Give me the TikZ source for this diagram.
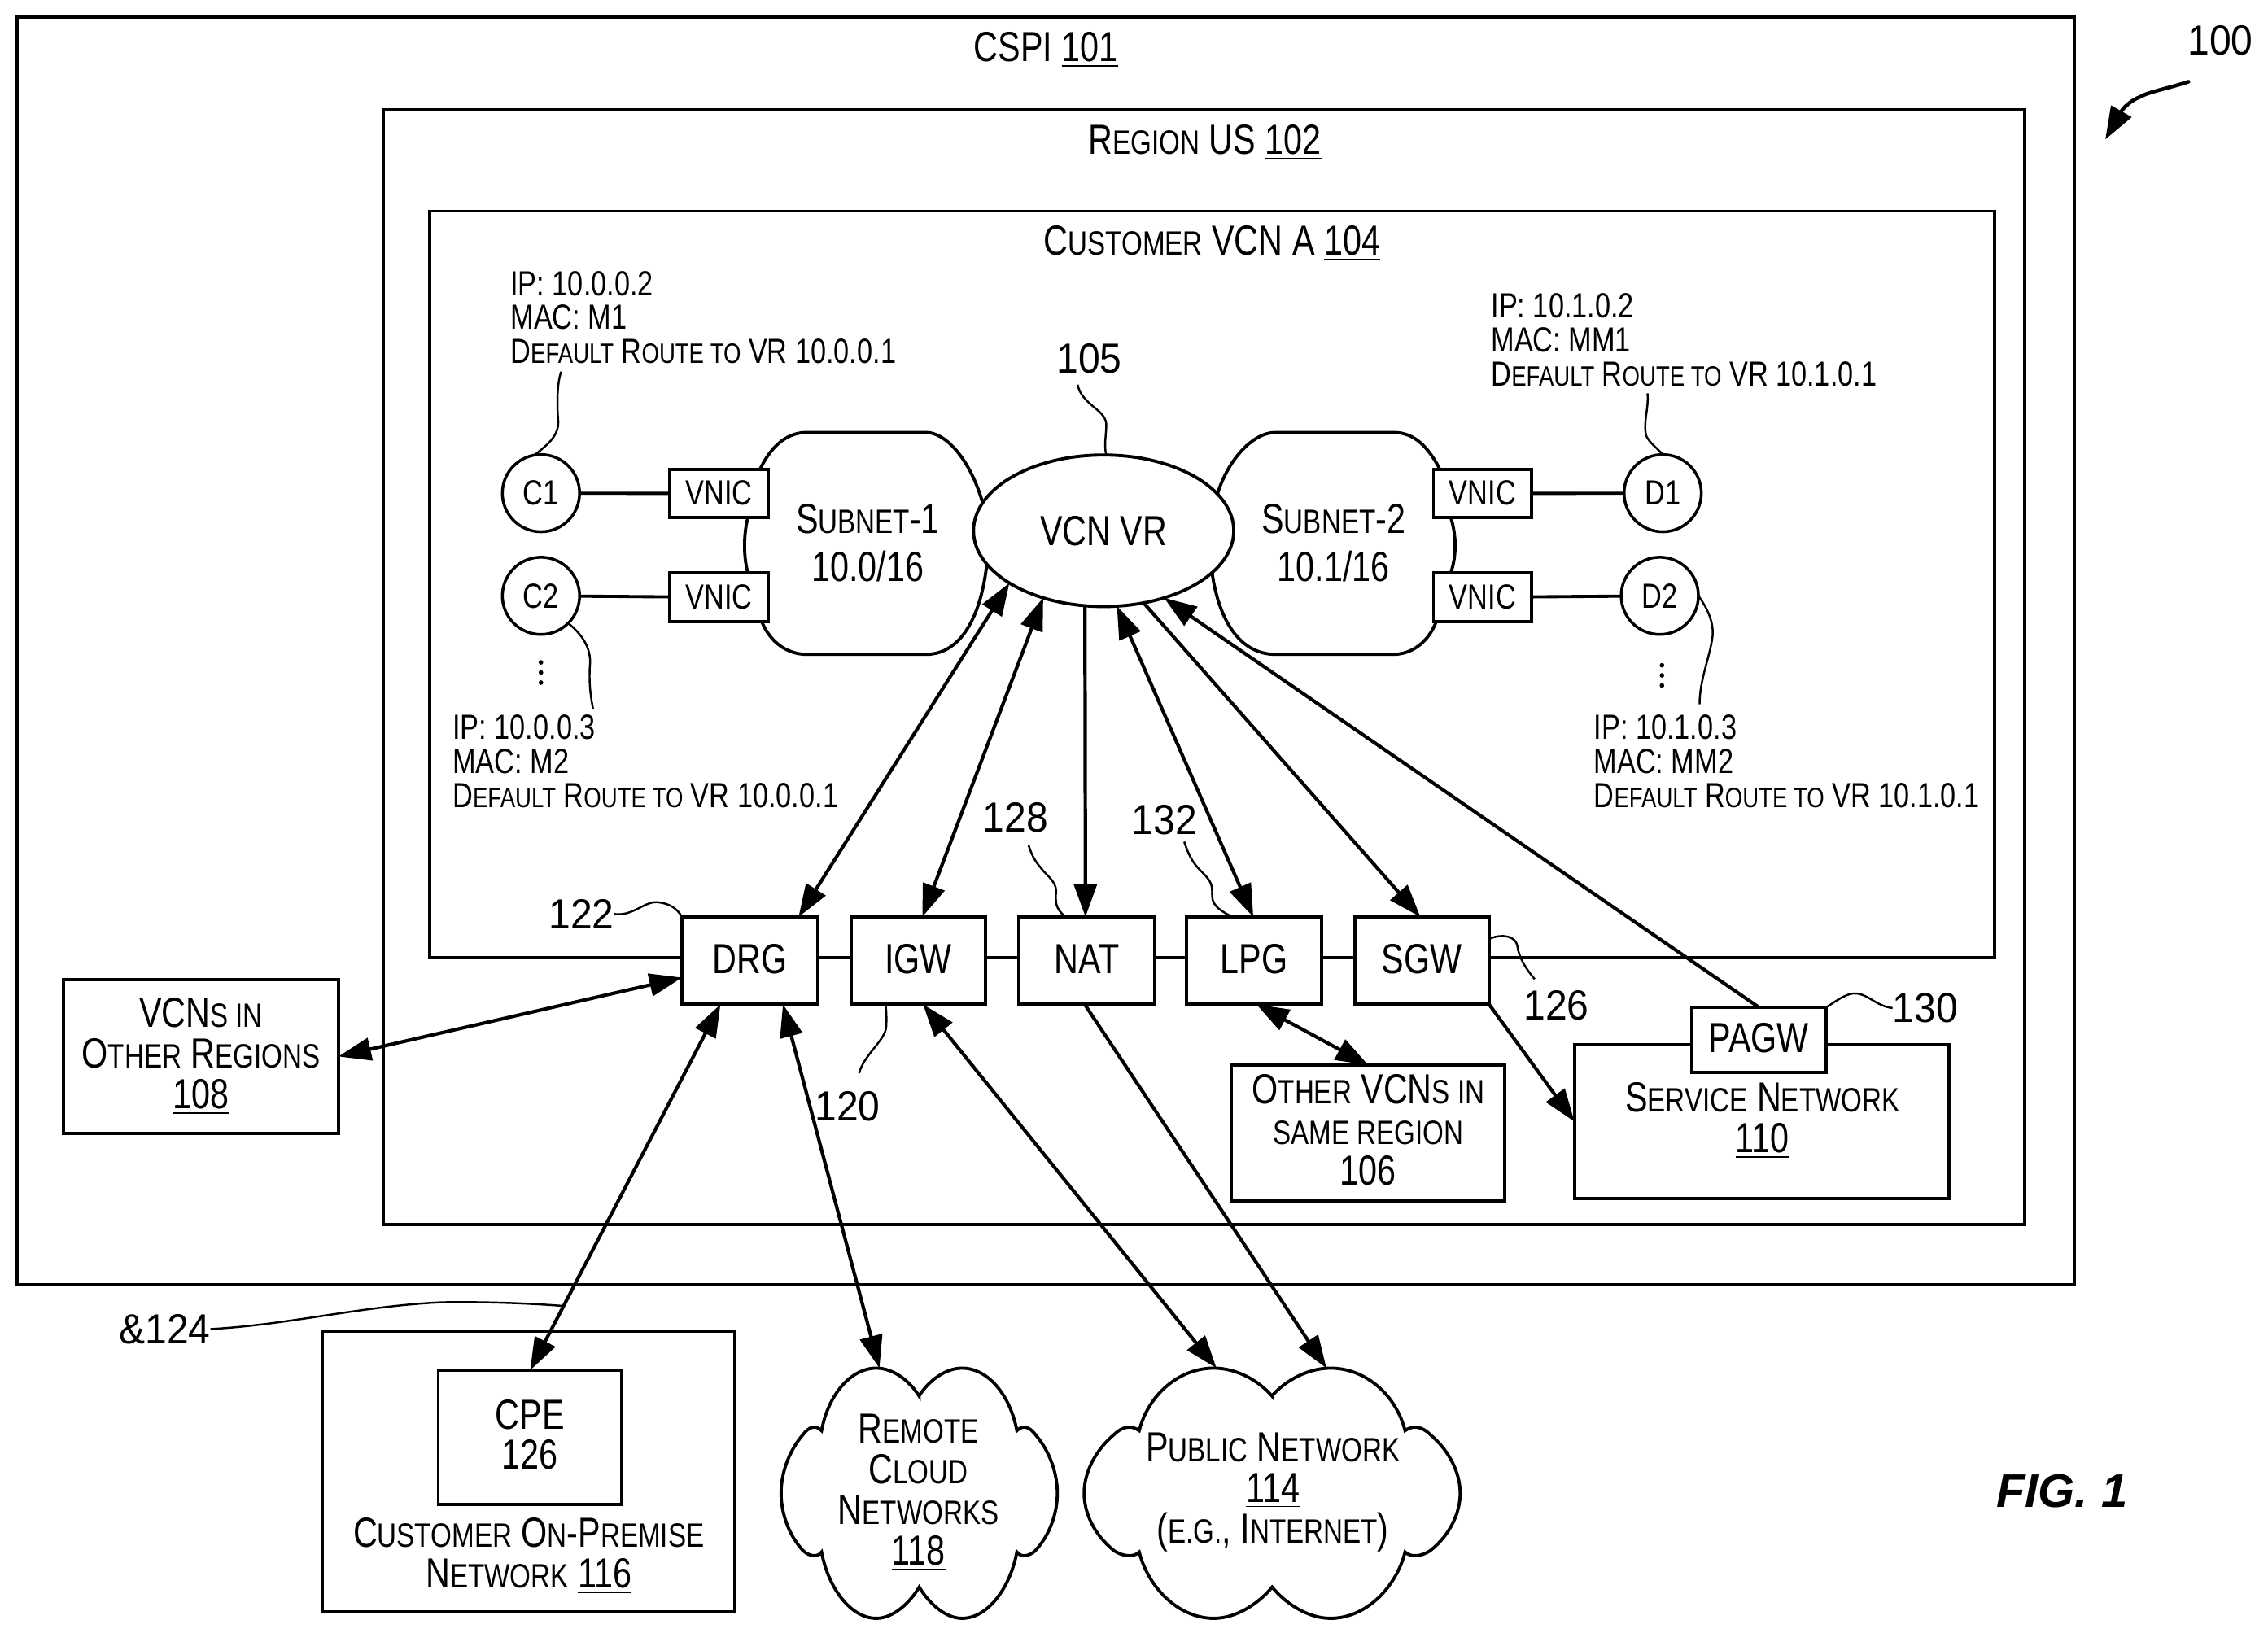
\documentclass[tikz,border=0pt]{standalone}
\usepackage{fontspec}
\setmainfont[FakeStretch=0.8]{Liberation Sans}
\newfontfamily\numfont[FakeStretch=0.93]{Liberation Sans}
\newfontfamily\figfont[BoldItalicFont={Liberation Sans Bold Italic}]{Liberation Sans}
\usetikzlibrary{arrows.meta,shapes.geometric}
\def\uu{0.50576pt}
\def\smsize{11.8pt}
\newcommand\sm[1]{{\fontsize{\smsize}{\smsize}\selectfont #1}}
\newcommand\unum[1]{\underline{#1}}
\newcommand\bigf{\def\smsize{11.8pt}\fontsize{14.7pt}{14.2pt}\selectfont}
\newcommand\midf{\def\smsize{9.8pt}\fontsize{12.2pt}{11.9pt}\selectfont}
\newcommand\bx[6]{\node[frame,minimum width={(#4-#2)*\uu},minimum height={(#5-#3)*\uu}] (#1) at ({(#2+#4)/2},{(#3+#5)/2}) {#6};}
\newcommand\cloudshape[4]{%
  \draw[shape line,fill=white,shift={(#1,#2)},xscale=#3,yscale=#4]
  (0,-.78) .. controls (.07,-.9) and (.19,-1) .. (.31,-1)
  .. controls (.5,-1) and (.66,-.78) .. (.707,-.5)
  .. controls (.75,-.55) and (.8,-.53) .. (.84,-.47)
  .. controls (.95,-.33) and (1,-.15) .. (1,0)
  .. controls (1,.15) and (.95,.33) .. (.84,.46)
  .. controls (.8,.5) and (.74,.52) .. (.707,.47)
  .. controls (.66,.75) and (.5,1) .. (.31,1)
  .. controls (.19,1) and (.07,.88) .. (0,.75)
  .. controls (-.07,.88) and (-.19,1) .. (-.31,1)
  .. controls (-.5,1) and (-.66,.75) .. (-.707,.47)
  .. controls (-.74,.52) and (-.8,.5) .. (-.84,.46)
  .. controls (-.95,.33) and (-1,.15) .. (-1,0)
  .. controls (-1,-.15) and (-.95,-.33) .. (-.84,-.47)
  .. controls (-.8,-.53) and (-.75,-.55) .. (-.707,-.5)
  .. controls (-.66,-.78) and (-.5,-1) .. (-.31,-1)
  .. controls (-.19,-1) and (-.07,-.9) .. cycle;}
\tikzset{
  frame/.style={draw,fill=white,line width=1.1pt,inner sep=0pt,outer sep=0pt,align=center,font=\bigf},
  shape line/.style={line width=1.1pt},
  txt/.style={inner sep=0pt,outer sep=0pt,align=center,font=\bigf},
  reflbl/.style={inner sep=0pt,outer sep=0pt,font=\numfont\bigf},
  info/.style={inner sep=0pt,outer sep=0pt,align=left,anchor=west,font=\midf},
  hostc/.style={draw,fill=white,circle,line width=1pt,minimum size=27pt,inner sep=0pt,outer sep=0pt,font=\midf},
  wire/.style={line width=1.1pt},
  conn/.style={line width=1.2pt,-{Triangle[length=11.4pt,width=7.9pt]}},
  both/.style={line width=1.2pt,{Triangle[length=11.4pt,width=7.9pt]}-{Triangle[length=11.4pt,width=7.9pt]}},
  leader/.style={line width=0.7pt},
  dotm/.style={circle,fill=black,inner sep=0pt,minimum size=1.6pt},
}
\begin{document}
\begin{tikzpicture}[x=\uu,y=-\uu]
\useasboundingbox (0,0) rectangle (1568,1129);
\fill[white] (0,0) rectangle (1568,1129);
% frames
\bx{cspi}{12}{12}{1434}{888.5}{}
\bx{region}{265}{76}{1400}{846.5}{}
\bx{vcn}{297}{146}{1379}{662}{}
\node[txt] (tcspi) at (723,34.5) {CSPI \unum{101}};
\node[txt] (tregion) at (833,98.5) {R\sm{EGION} US \unum{102}};
\node[txt] (tvcn) at (838,168.5) {C\sm{USTOMER} VCN A \unum{104}};
% subnets
\draw[shape line,fill=white] (525.7,324) .. controls (534,307) and (545,299) .. (558,299) -- (640,299)
  .. controls (655,299) and (672,320) .. (680,350) -- (682,392)
  .. controls (678,425) and (665,452.5) .. (640,452.5) -- (558,452.5)
  .. controls (545,452.5) and (533,445) .. (526.7,430) -- (517,396)
  .. controls (514,385) and (514,370) .. (517,358) -- cycle;
\draw[shape line,fill=white] (995,323.6) .. controls (985,305) and (975,299) .. (963,299) -- (882,299)
  .. controls (865,299) and (848,320) .. (841.6,342) -- (838,396)
  .. controls (842,425) and (855,452.5) .. (882,452.5) -- (963,452.5)
  .. controls (977,452.5) and (988,443) .. (993,429.6) -- (1003,396)
  .. controls (1007,385) and (1007,370) .. (1003,358) -- cycle;
\node[txt,font=\bigf] (tsub1) at (600,375.5) {S\sm{UBNET}-1\\[2.5pt]10.0/16};
\node[txt,font=\bigf] (tsub2) at (922,375.5) {S\sm{UBNET}-2\\[2.5pt]10.1/16};
% VR
\node[draw,fill=white,ellipse,line width=1.1pt,minimum width=91pt,minimum height=53pt,inner sep=0pt,outer sep=0pt,font=\bigf] (vr) at (763,367) {VCN VR};
% hosts and VNICs
\node[hostc] (c1) at (374,341) {C1};
\node[hostc] (c2) at (374,412) {C2};
\node[hostc] (d1) at (1149.5,341) {D1};
\node[hostc] (d2) at (1147.5,412) {D2};
\bx{v1}{463}{324.5}{531}{358}{\midf\raisebox{.5pt}{VNIC}}
\bx{v2}{463}{396}{531}{430}{\midf\raisebox{.5pt}{VNIC}}
\bx{v3}{991}{324.5}{1059}{358}{\midf\raisebox{.5pt}{VNIC}}
\bx{v4}{991}{396}{1059}{430}{\midf\raisebox{.5pt}{VNIC}}
\draw[wire] (c1) -- (v1);
\draw[wire] (c2) -- (v2);
\draw[wire] (d1) -- (v3);
\draw[wire] (d2) -- (v4);
\node[dotm] (dc1) at (374,458) {};
\node[dotm] (dc2) at (374,465) {};
\node[dotm] (dc3) at (374,472) {};
\node[dotm] (dd1) at (1149,460) {};
\node[dotm] (dd2) at (1149,467) {};
\node[dotm] (dd3) at (1149,474) {};
% info blocks
\node[info] (i1) at (353,219.5) {IP: 10.0.0.2\\MAC: M1\\D\sm{EFAULT} R\sm{OUTE TO} VR 10.0.0.1};
\node[info] (i2) at (313,526.5) {IP: 10.0.0.3\\MAC: M2\\D\sm{EFAULT} R\sm{OUTE TO} VR 10.0.0.1};
\node[info] (i3) at (1031,235) {IP: 10.1.0.2\\MAC: MM1\\D\sm{EFAULT} R\sm{OUTE TO} VR 10.1.0.1};
\node[info] (i4) at (1102,526.5) {IP: 10.1.0.3\\MAC: MM2\\D\sm{EFAULT} R\sm{OUTE TO} VR 10.1.0.1};
% gateway boxes
\bx{drg}{471.5}{634}{565.5}{694.5}{\raisebox{1.3pt}{DRG}}
\bx{igw}{588.5}{634}{681.5}{694.5}{\raisebox{1.3pt}{IGW}}
\bx{nat}{704.5}{634}{798.5}{694.5}{\raisebox{1.3pt}{NAT}}
\bx{lpg}{820.5}{634}{913.5}{694.5}{\raisebox{1.3pt}{LPG}}
\bx{sgw}{936.5}{634}{1029.5}{694.5}{\raisebox{1.3pt}{SGW}}
% other boxes
\bx{other}{44}{677.5}{234}{783.5}{VCN\sm{S IN}\\O\sm{THER} R\sm{EGIONS}\\\unum{108}}
\bx{same}{851.5}{736.5}{1040.5}{830.5}{O\sm{THER} VCN\sm{S IN}\\\sm{SAME REGION}\\\unum{106}}
\bx{service}{1088.5}{722.5}{1347.5}{828.5}{}
\node[txt] (tservice) at (1218.5,775) {S\sm{ERVICE} N\sm{ETWORK}\\\unum{110}};
\bx{pagw}{1169.5}{696.5}{1262.5}{741.5}{\raisebox{1.3pt}{PAGW}}
\bx{prem}{223}{920.5}{508}{1114.5}{}
\bx{cpe}{303}{947.5}{430}{1040.5}{CPE\\\unum{126}}
\node[txt] (tprem) at (365.5,1076) {C\sm{USTOMER} O\sm{N}-P\sm{REMISE}\\N\sm{ETWORK} \unum{116}};
% clouds
\cloudshape{635.5}{1032.5}{95.5}{86.5}
\node[txt] (tremote) at (635,1032) {R\sm{EMOTE}\\C\sm{LOUD}\\N\sm{ETWORKS}\\\unum{118}};
\cloudshape{879.5}{1032.5}{130}{86.5}
\node[txt] (tpublic) at (880,1032) {P\sm{UBLIC} N\sm{ETWORK}\\\unum{114}\\(\sm{E.G.}, I\sm{NTERNET})};
\coordinate (cr) at (608,946);
\coordinate (pa) at (841,946);
\coordinate (pb) at (917,946);
% connectors
\draw[both] (drg.42) -- (vr.209.7);
\draw[both] (igw.85) -- (vr.228.2);
\draw[conn] (vr.256) -- (nat.92.7);
\draw[both] (lpg.91) -- (vr.280);
\draw[conn] (vr.299.4) -- (sgw.92);
\draw[conn] (pagw.north) -- (vr.312);
\draw[both] (drg.194.6) -- (other.east);
\draw[both] (drg.236.3) -- (cpe.north);
\draw[both] (drg.307.5) -- (cr);
\draw[both] (igw.276.7) -- (pa);
\draw[conn] (nat.267.3) -- (pb);
\draw[both] (lpg.273) -- (same.north);
\draw[conn] (sgw.south east) -- (service.west);
% reference numbers
\node[reflbl] (n105) at (753,248) {105};
\node[reflbl] (n122) at (402,632) {122};
\node[reflbl] (n120) at (586,765) {120};
\node[reflbl] (n128) at (702,565) {128};
\node[reflbl] (n132) at (805,567) {132};
\node[reflbl] (n126b) at (1076,695) {126};
\node[reflbl] (n130) at (1331,697) {130};
\node[reflbl] (n124) at (114,919) {\&124};
\node[reflbl] (n100) at (1535,28) {100};
\node[inner sep=0pt,outer sep=0pt] (fig) at (1425.5,1031) {\figfont\fontsize{16.5pt}{16.5pt}\selectfont\bfseries\itshape FIG. 1};
% leaders
\coordinate (lc1) at (388,257);
\coordinate (lc2) at (410,490);
\coordinate (ld1) at (1139,272);
\coordinate (ld2) at (1175,487);
\coordinate (l105) at (745,266);
\coordinate (l120) at (594,742);
\coordinate (l128) at (711,584);
\coordinate (l132) at (818.7,582);
\coordinate (l126) at (1061,677);
\coordinate (l124) at (389,903);
\coordinate (a100s) at (1513,56.5);
\coordinate (a100e) at (1455.5,96.5);
\draw[leader] (lc1) .. controls (385,265) and (385,280) .. (386,292) .. controls (386,300) and (381,306) .. (c1.100);
\draw[leader] (c2.-45) .. controls (400,437) and (408,445) .. (408,458) .. controls (407,470) and (408,480) .. (lc2);
\draw[leader] (ld1) .. controls (1140,282) and (1136,292) .. (1138,301) .. controls (1140,306) and (1146,310) .. (d1.90);
\draw[leader] (d2.0) .. controls (1180,420) and (1185,430) .. (1184,440) .. controls (1182,455) and (1175,470) .. (ld2);
\draw[leader] (l105) .. controls (748,280) and (764,283) .. (764.8,293) .. controls (765,300) and (763,308) .. (vr.88);
\draw[leader] (n122.east) .. controls (438,634) and (446,622) .. (456,624) .. controls (463,625) and (468,628) .. (drg.north west);
\draw[leader] (igw.233.7) .. controls (613,700) and (613,707) .. (612.6,711) .. controls (611,720) and (597,730) .. (l120);
\draw[leader] (l128) .. controls (714,594) and (717,597) .. (722,603) .. controls (727,608) and (731,612) .. (730,618) .. controls (730,623) and (729,628) .. (nat.116);
\draw[leader] (l132) .. controls (822,592) and (825,597) .. (830,602) .. controls (835,607) and (838,610) .. (838,616) .. controls (838,622) and (837,627) .. (lpg.116);
\draw[leader] (sgw.18) .. controls (1040,645) and (1048,648) .. (1049,654) .. controls (1050,662) and (1055,670) .. (l126);
\draw[leader] (pagw.north east) .. controls (1270,692) and (1277,686) .. (1284,687) .. controls (1292,688) and (1298,696) .. (n130.west);
\draw[leader] (n124.east) .. controls (200,916) and (250,903) .. (305,900.5) .. controls (330,900) and (365,901) .. (l124);
\draw[line width=1.3pt,line cap=round,-{Triangle[length=11.4pt,width=8pt]}] (a100s) .. controls (1497.5,61.5) and (1485.5,63.5) .. (1479.5,67) .. controls (1473,69.5) and (1468,74.5) .. (a100e);
\end{tikzpicture}
\end{document}
